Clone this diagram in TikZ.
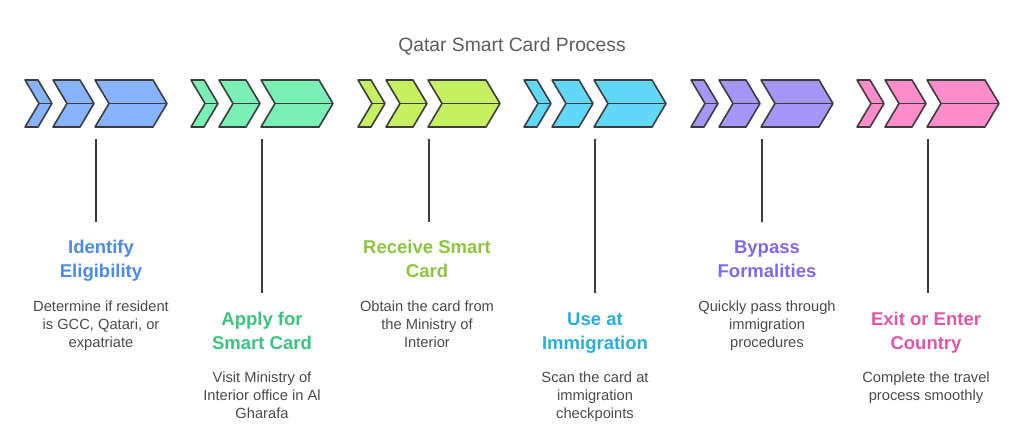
\documentclass[tikz,border=0pt]{standalone}
\usepackage{fontspec}
\setmainfont{Liberation Sans}
\definecolor{linec}{HTML}{3C3C3C}
\definecolor{desc}{HTML}{4A4A4A}
\definecolor{fillA}{HTML}{88B4FF}
\definecolor{fillB}{HTML}{78F0B6}
\definecolor{fillC}{HTML}{C6F062}
\definecolor{fillD}{HTML}{62D8F8}
\definecolor{fillE}{HTML}{A596F8}
\definecolor{fillF}{HTML}{FF8CCB}
\definecolor{tA}{HTML}{4A8BE8}
\definecolor{tB}{HTML}{3CC47F}
\definecolor{tC}{HTML}{8DC43F}
\definecolor{tD}{HTML}{2AAEE0}
\definecolor{tE}{HTML}{7B6BEB}
\definecolor{tF}{HTML}{E055A8}
\begin{document}
\begin{tikzpicture}[x=1pt,y=-1pt,
  chev/.style={draw=linec,line width=1.6pt,line join=round},
  conn/.style={draw=linec,line width=1.6pt},
  ttl/.style={anchor=base,align=center,inner sep=0pt,font=\fontsize{18.5}{24}\selectfont\bfseries},
  dsc/.style={anchor=base,align=center,inner sep=0pt,text=desc,font=\fontsize{14.7}{17.6}\selectfont},
  head/.style={anchor=base,inner sep=0pt,text=desc!90!white,font=\fontsize{19.3}{23}\selectfont}]
\useasboundingbox (0,0) rectangle (1024,424);
\node[head] (title) at (512,51) {Qatar Smart Card Process};
\foreach \i/\fc in {0/fillA,1/fillB,2/fillC,3/fillD,4/fillE,5/fillF} {
  \pgfmathsetmacro\xo{round(25+166.4*\i)}
  \foreach \a/\b in {0/13,28/55,70/128} {
    \draw[chev,fill=\fc] (\xo+\a,80) -- (\xo+\b,80) -- (\xo+\b+14,103.5) -- (\xo+\b,127) -- (\xo+\a,127) -- (\xo+\a+14,103.5) -- cycle;
    \draw[chev] (\xo+\a+14,103.5) -- (\xo+\b+14,103.5);
  }
  \pgfmathsetmacro\yl{mod(\i,2)==0 ? 222 : 293}
  \coordinate (top\i) at (\xo+71,139);
  \coordinate (bot\i) at (\xo+71,\yl);
  \draw[conn] (top\i) -- (bot\i);
}
% texts (anchor = baseline of last line)
\node[ttl,text=tA] (t0) at (101,277) {Identify\\Eligibility};
\node[dsc] (d0) at (101,347) {Determine if resident\\is GCC, Qatari, or\\expatriate};
\node[ttl,text=tB] (t1) at (262,349) {Apply for\\Smart Card};
\node[dsc] (d1) at (262,418) {Visit Ministry of\\Interior office in Al\\Gharafa};
\node[ttl,text=tC] (t2) at (427,277) {Receive Smart\\Card};
\node[dsc] (d2) at (427,347) {Obtain the card from\\the Ministry of\\Interior};
\node[ttl,text=tD] (t3) at (595,349) {Use at\\Immigration};
\node[dsc] (d3) at (595,418) {Scan the card at\\immigration\\checkpoints};
\node[ttl,text=tE] (t4) at (767,277) {Bypass\\Formalities};
\node[dsc] (d4) at (767,347) {Quickly pass through\\immigration\\procedures};
\node[ttl,text=tF] (t5) at (926,349) {Exit or Enter\\Country};
\node[dsc] (d5) at (926,400) {Complete the travel\\process smoothly};
\end{tikzpicture}
\end{document}
